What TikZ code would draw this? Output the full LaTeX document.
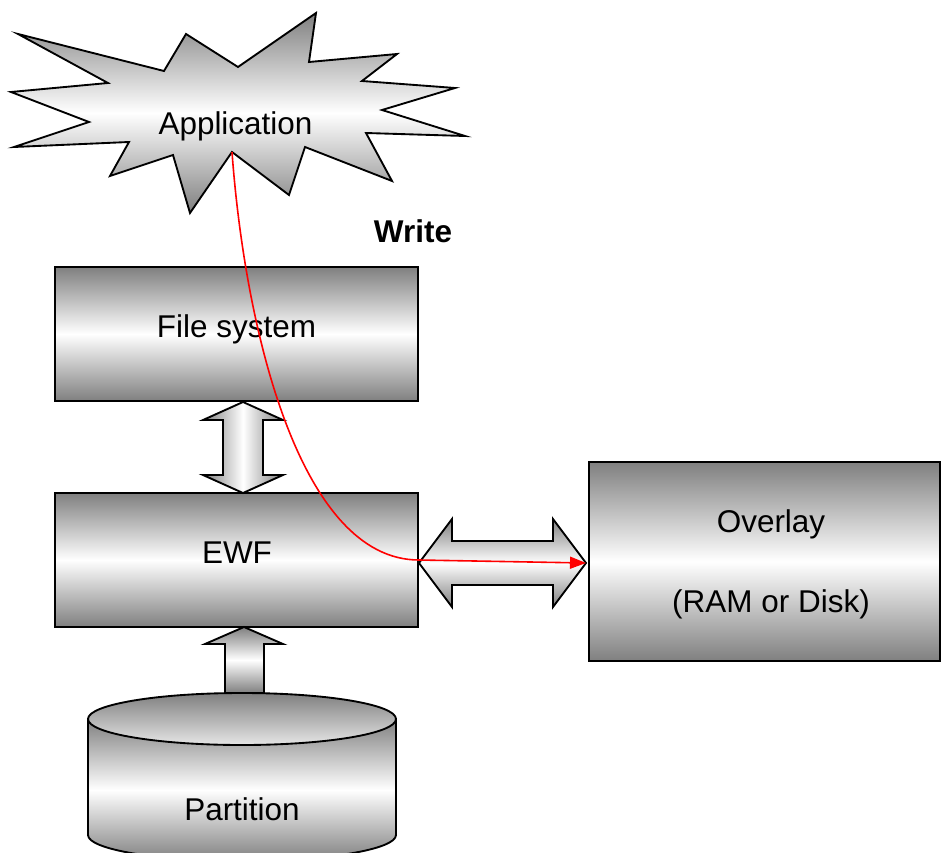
\documentclass[tikz,border=0pt]{standalone}
\usepackage{fontspec}
\setmainfont{Liberation Sans}
\usetikzlibrary{arrows.meta}
\tikzset{
  outl/.style={draw=black, line width=1.4pt, line join=miter},
  vshade/.style={outl, top color=gray, bottom color=gray, middle color=white},
  hshade/.style={outl, left color=gray, right color=gray, middle color=white},
  lbl/.style={font=\fontsize{23.6}{28}\selectfont, inner sep=0pt, anchor=base},
  redpath/.style={draw=red, line width=1.2pt, -{Triangle[length=12pt,width=9pt]}}
}
\begin{document}
\begin{tikzpicture}[x=0.75pt,y=-0.75pt]
\useasboundingbox (0,0) rectangle (941,852);
% starburst
\path[vshade] (18,34) -- (164,71) -- (186,34) -- (238,67) -- (316,13) -- (309,62)
  -- (397,54) -- (362,81) -- (455,88) -- (382,110) -- (465,136) -- (366,133)
  -- (392,181) -- (305,147) -- (289,195) -- (232,152) -- (190,213) -- (173,155)
  -- (110,176) -- (129,142) -- (14,147) -- (89,122) -- (11,92) -- (108,83) -- cycle;
\node[lbl] (app) at (235.5,135) {Application};
\coordinate (appout) at (232,152);
% boxes
\path[vshade] (55,267) rectangle (418,401);
\node[lbl] (fs) at (236.5,337) {File system};
\path[vshade] (55,493) rectangle (418,627);
\node[lbl] (ewf) at (237,563) {EWF};
\path[vshade] (589,462) rectangle (940,661);
\node[lbl] (ovl) at (771,532) {Overlay};
\node[lbl] (ram) at (771,612) {(RAM or Disk)};
\node[lbl, font=\fontsize{23.6}{28}\selectfont\bfseries] (write) at (413,243) {Write};
% vertical double arrow FS <-> EWF
\path[hshade] (243,402) -- (283,420) -- (263,420) -- (263,475) -- (283,475)
  -- (243,493) -- (203,475) -- (223,475) -- (223,420) -- (203,420) -- cycle;
% horizontal double arrow EWF <-> Overlay
\path[vshade] (419,563) -- (452,519) -- (452,541) -- (553,541) -- (553,519)
  -- (586,563) -- (553,607) -- (553,585) -- (452,585) -- (452,607) -- cycle;
\coordinate (ewfout) at (419,560);
\coordinate (ovlin) at (586,563);
% cylinder
\path[vshade] (88,719) -- (88,835) arc[start angle=180, end angle=0, x radius=154, y radius=26]
  -- (396,719) -- cycle;
\path[outl, top color=gray, bottom color=gray!20] (242,719) ellipse [x radius=154, y radius=26];
\node[lbl] (part) at (242,820) {Partition};
% up arrow partition -> EWF
\path[vshade] (244,627) -- (283,644) -- (264,644) -- (264,693) -- (225,693)
  -- (225,644) -- (205,644) -- cycle;
% red write path
\draw[redpath] (appout) .. controls (245,330) and (300,560) .. (ewfout) -- (ovlin);
\end{tikzpicture}
\end{document}
